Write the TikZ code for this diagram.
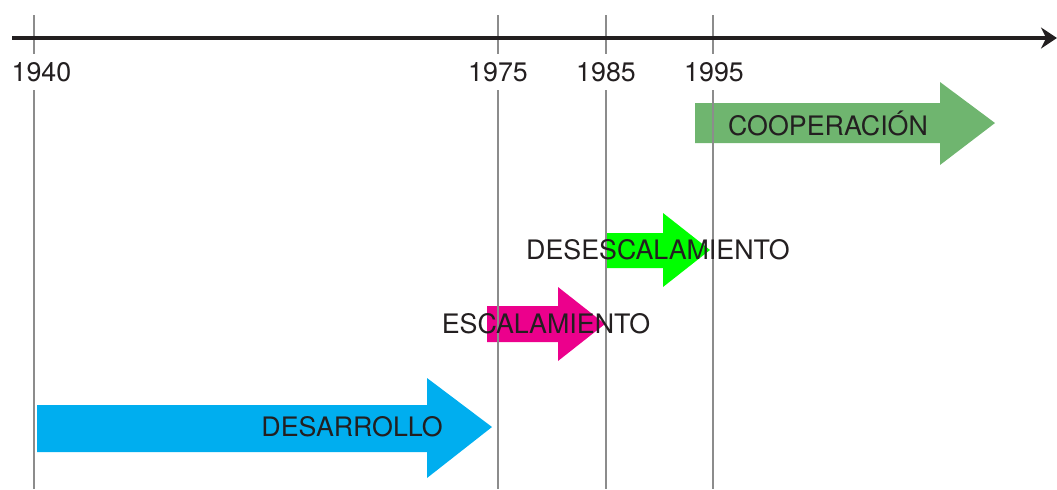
\documentclass[tikz,border=0pt]{standalone}
\usepackage{fontspec}
\setmainfont{TeX Gyre Heros}
\usetikzlibrary{arrows.meta}

\definecolor{desarrollo}{HTML}{00AEEF}
\definecolor{escalada}{HTML}{EC008C}
\definecolor{desescalada}{HTML}{00FF00}
\definecolor{cooperacion}{HTML}{6FB56F}
\definecolor{texto}{HTML}{231F20}

\begin{document}
\begin{tikzpicture}[
        x = 0.5pt, y = -0.5pt, % one unit per pixel, y runs down
        > = {Stealth[length=8pt, width=10.5pt]}, % arrow head style
        font = \fontsize{13.4}{15}\selectfont,
        text = texto
    ]

    \tikzstyle{year}=[
        fill = white,
        inner sep = 4pt
    ]
    \tikzstyle{guide}=[
        draw = black!45,
        line width = 0.6pt
    ]

    \useasboundingbox (0,0) rectangle (1057,489);

    % phase arrows
    \fill[desarrollo] (37,405) -- (427,405) -- (427,378) -- (492,427)
        -- (427,478) -- (427,452) -- (37,452) -- cycle;
    \fill[escalada] (487,306) -- (558,306) -- (558,287) -- (605,324)
        -- (558,361) -- (558,342) -- (487,342) -- cycle;
    \fill[desescalada] (605,233) -- (663,233) -- (663,213) -- (710,250)
        -- (663,287) -- (663,268) -- (605,268) -- cycle;
    \fill[cooperacion] (695,103) -- (940,103) -- (940,82) -- (995,123)
        -- (940,165) -- (940,143) -- (695,143) -- cycle;

    % year guides
    \coordinate (a1940) at (34,15);  \coordinate (b1940) at (34,489);
    \coordinate (a1975) at (498,15); \coordinate (b1975) at (498,489);
    \coordinate (a1985) at (606,15); \coordinate (b1985) at (606,489);
    \coordinate (a1995) at (713,15); \coordinate (b1995) at (713,489);
    \draw[guide] (a1940) -- (b1940);
    \draw[guide] (a1975) -- (b1975);
    \draw[guide] (a1985) -- (b1985);
    \draw[guide] (a1995) -- (b1995);

    % time axis
    \coordinate (start) at (12,38);
    \coordinate (end) at (1057,38);
    \draw[->, line width = 1.6pt, texto] (start) -- (end);

    \node[year] (y1940) at (41.5,72) {1940};
    \node[year] (y1975) at (498,72) {1975};
    \node[year] (y1985) at (606,72) {1985};
    \node[year] (y1995) at (714,72) {1995};

    \node (desarrollo) at (352,427) {DESARROLLO};
    \node (escalamiento) at (546,324) {ESCALAMIENTO};
    \node (desescalamiento) at (658,250) {DESESCALAMIENTO};
    \node (cooperacion) at (828,123) {COOPERACIÓN};
\end{tikzpicture}
\end{document}
